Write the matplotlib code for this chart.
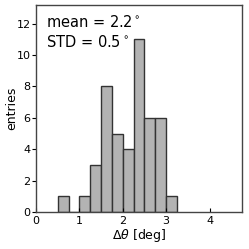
import numpy as np
import matplotlib
matplotlib.use("Agg")
import matplotlib.pyplot as plt

# histogram of delta theta, 0.25 deg bins
bin_edges = [0.5, 0.75, 1.0, 1.25, 1.5, 1.75, 2.0, 2.25, 2.5, 2.75, 3.0, 3.25]
counts = [1, 0, 1, 3, 8, 5, 4, 11, 6, 6, 1]
mean_txt = "mean = 2.2$^\\circ$"
std_txt = "STD = 0.5$^\\circ$"

edges = np.array(bin_edges)
centers = 0.5 * (edges[:-1] + edges[1:])

fig = plt.figure(figsize=(2.49, 2.49), dpi=100)
ax = fig.add_axes([0.145, 0.149, 0.827, 0.831])
ax.hist(centers, bins=edges, weights=counts, color="#b3b3b3",
        edgecolor="#333333", linewidth=1.0)

ax.set_xlim(0, 4.75)
ax.set_ylim(0, 1.2 * max(counts))
ax.set_xticks([0, 1, 2, 3, 4])
ax.set_yticks([0, 2, 4, 6, 8, 10, 12])
ax.tick_params(axis="x", direction="in", length=3, labelsize=8, pad=3)
ax.tick_params(axis="y", direction="out", length=3, labelsize=8, pad=1)
for s in ax.spines.values():
    s.set_color("#444444")
    s.set_linewidth(1.0)

ax.set_xlabel(r"$\Delta\theta$ [deg]", fontsize=9, labelpad=1)
ax.set_ylabel("entries", fontsize=9)
ax.yaxis.set_label_coords(-0.085, 0.5)

ax.text(0.05, 0.955, mean_txt, transform=ax.transAxes, fontsize=10.5, va="top")
ax.text(0.05, 0.86, std_txt, transform=ax.transAxes, fontsize=10.5, va="top")

fig.savefig("out.png", dpi=100)
